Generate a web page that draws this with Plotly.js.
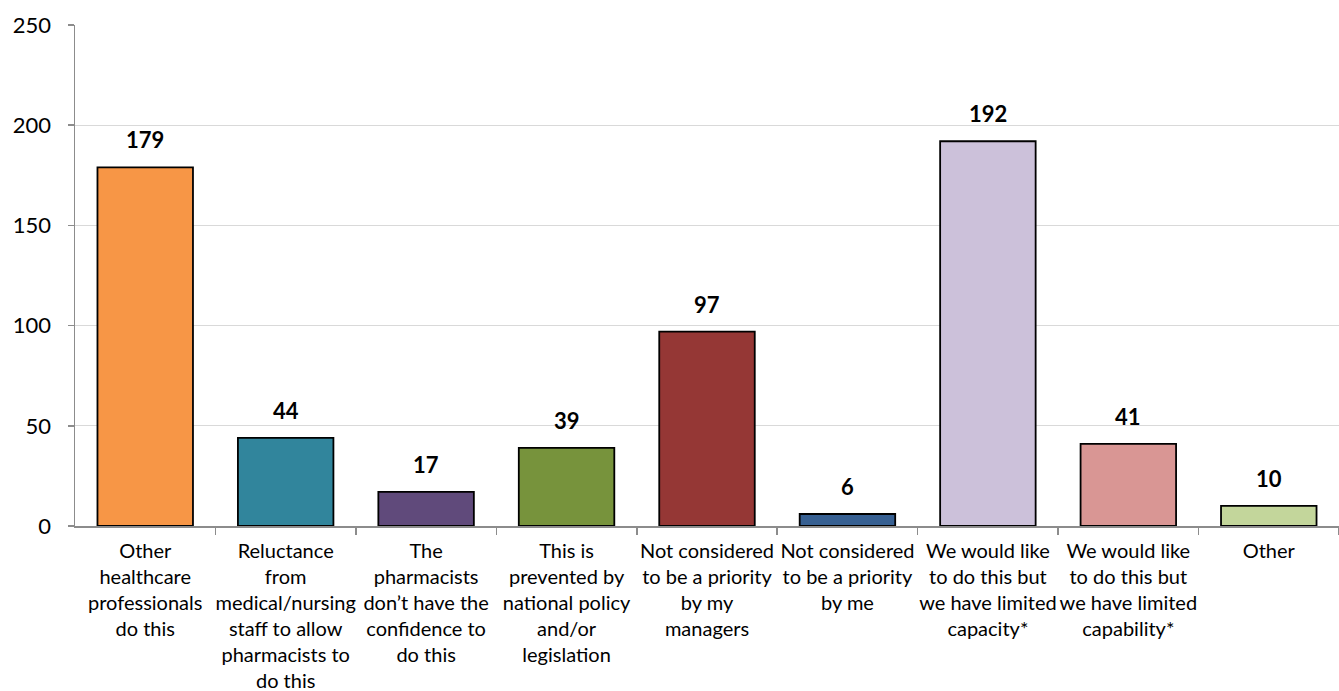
<!DOCTYPE html>
<html><head><meta charset="utf-8">
<script src="https://cdn.plot.ly/plotly-3.0.1.min.js"></script>
<style>html,body{margin:0;padding:0;background:#fff;}#chart{width:1339px;height:691px;}</style>
</head><body><div id="chart"></div>
<script>
const categories = [
  "Other<br>healthcare<br>professionals<br>do this",
  "Reluctance<br>from<br>medical/nursing<br>staff to allow<br>pharmacists to<br>do this",
  "The<br>pharmacists<br>don’t have the<br>confidence to<br>do this",
  "This is<br>prevented by<br>national policy<br>and/or<br>legislation",
  "Not considered<br>to be a priority<br>by my<br>managers",
  "Not considered<br>to be a priority<br>by me",
  "We would like<br>to do this but<br>we have limited<br>capacity*",
  "We would like<br>to do this but<br>we have limited<br>capability*",
  "Other"
];
const values = [179, 44, 17, 39, 97, 6, 192, 41, 10];
const barColors = ["#F79646","#31859C","#604A7B","#77933C","#953735","#376092","#CCC1DA","#D99694","#C3D69B"];
const yTicks = [0, 50, 100, 150, 200, 250];

const idx = categories.map((c, i) => i);

const trace = {
  type: "bar",
  x: idx,
  y: values,
  marker: {color: barColors, line: {color: "#000000", width: 1.8}},
  width: 0.68,
  hoverinfo: "skip"
};

const annotations = values.map((v, i) => ({
  x: i, y: v, xref: "x", yref: "y",
  text: "<b>" + v + "</b>", showarrow: false,
  yanchor: "bottom", yshift: 12,
  font: {family: "Lato, sans-serif", size: 22, color: "#000"}
}));

const layout = {
  width: 1339, height: 691,
  margin: {l: 75, r: 0, t: 25, b: 165},
  paper_bgcolor: "#fff", plot_bgcolor: "#fff",
  showlegend: false,
  font: {family: "Lato, sans-serif", color: "#000"},
  xaxis: {
    range: [-0.5, 8.5],
    tickmode: "array",
    tickvals: idx,
    ticktext: categories,
    showgrid: false,
    zeroline: false,
    showline: true, linecolor: "#8c8c8c", linewidth: 1.5,
    ticks: "",
    tickfont: {family: "Lato, sans-serif", size: 20, color: "#000"},
    ticklabelstandoff: 6,
    fixedrange: true
  },
  xaxis2: {
    overlaying: "x", range: [-0.5, 8.5],
    tickmode: "array", tickvals: idx.map(i => i + 0.5),
    ticktext: idx.map(() => ""),
    ticks: "outside", ticklen: 8, tickcolor: "#8c8c8c", tickwidth: 1.5,
    showgrid: false, zeroline: false, showline: false, side: "bottom",
    anchor: "y", fixedrange: true
  },
  yaxis: {
    range: [0, 250],
    tickmode: "array", tickvals: yTicks,
    showgrid: true, gridcolor: "#d9d9d9", gridwidth: 1.2,
    zeroline: false,
    showline: true, linecolor: "#8c8c8c", linewidth: 1.5,
    ticks: "outside", ticklen: 6, tickcolor: "#8c8c8c", tickwidth: 1.5,
    tickfont: {family: "Lato, sans-serif", size: 22, color: "#000"},
    ticklabelstandoff: 12,
    fixedrange: true
  },
  annotations: annotations
};

const tickTrace = {type: "scatter", x: [0], y: [0], xaxis: "x2", yaxis: "y", mode: "markers", marker: {opacity: 0}, hoverinfo: "skip"};

Plotly.newPlot("chart", [trace, tickTrace], layout, {displayModeBar: false, staticPlot: true});
</script>
</body></html>
